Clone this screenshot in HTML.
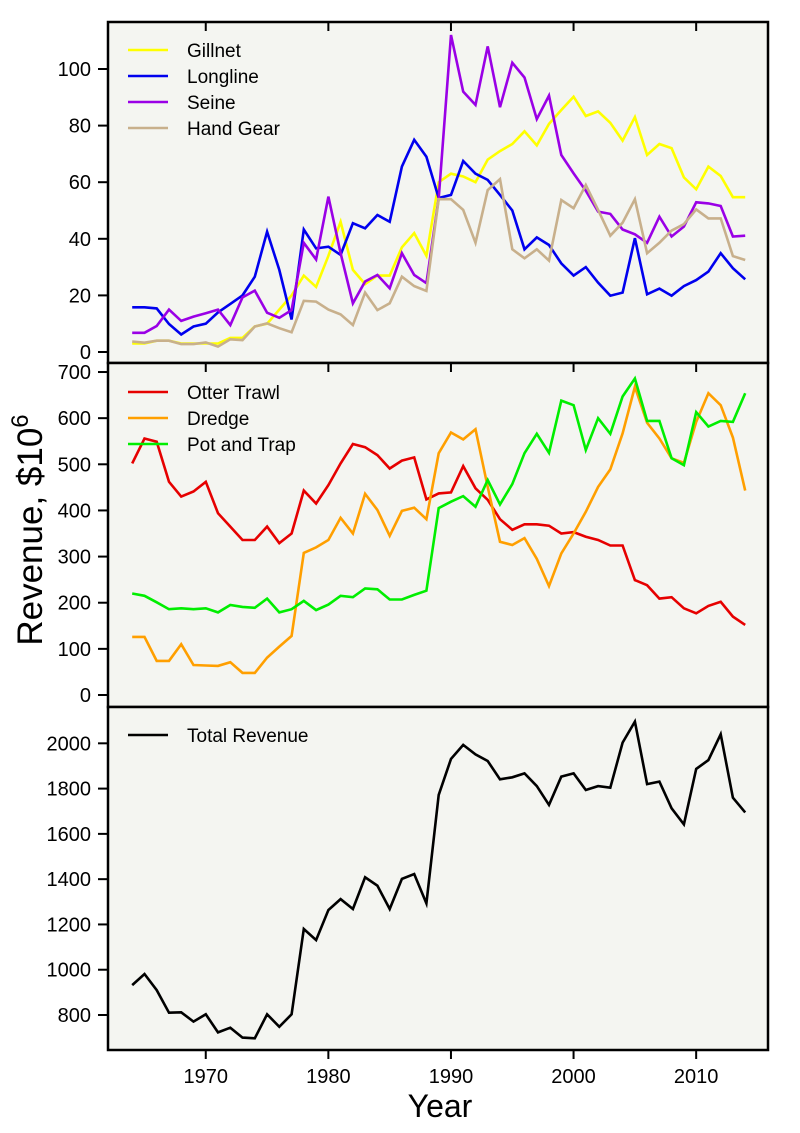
<!DOCTYPE html>
<html><head><meta charset="utf-8"><style>
html,body{margin:0;padding:0;background:#fff}
svg{display:block;font-family:"Liberation Sans",Arial,sans-serif}
</style></head><body>
<svg id="chart" width="800" height="1133" viewBox="0 0 800 1133" xmlns="http://www.w3.org/2000/svg">
<g id="panels"></g>
<text transform="translate(42,530) rotate(-90)" text-anchor="middle" font-size="35">Revenue, $10<tspan dy="-14" font-size="24">6</tspan></text>
<text x="440" y="1117" text-anchor="middle" font-size="32">Year</text>
</svg>
<script>
const years = Array.from({length:51},(_,i)=>1964+i);
const gillnet = [3,3,4,4,3,3,3,3,5,5,9,10,15,20,27,23,34,46,29,24,27,27,37,42,34,60,63,62,60,68,71,73.5,78,73,80.6,85.5,90.2,83.4,85,81,74.7,83,69.6,73.5,72,61.7,57.5,65.5,62.2,54.7,54.7];
const longline = [15.8,15.8,15.4,9.9,6.2,9,10,14,17,20,26.6,42.5,29,11.5,43.3,36.6,37.2,34.3,45.5,43.7,48.4,46,65.5,75,69,54.4,55.5,67.5,63,60.8,55.5,50,36.3,40.5,37.8,31.3,27,30,24.5,19.9,21,40.2,20.4,22.4,19.9,23.3,25.4,28.4,34.9,29.6,25.7];
const seine = [6.8,6.8,9.2,15,11,12.5,13.7,15,9.5,19.3,21.7,13.9,12.1,14.8,38.6,32.7,54.9,34.9,17.2,24.9,27.2,22.5,34.9,27.2,24.3,54.3,112,92,87.3,108,86.5,102.2,97,82.3,90.6,69.6,63.1,57,49.6,48.8,43.3,41.6,38.6,47.8,40.8,44.3,52.9,52.5,51.6,40.8,41.1];
const handGear = [3.7,3.3,4,4,2.8,2.8,3.4,1.9,4.5,4.2,9,10.1,8.4,7,18.1,17.8,15,13.3,9.5,21,14.8,17.2,26.6,23.3,21.6,54,54,50.2,38.6,57.2,61.1,36.3,33.1,36.3,32.3,53.7,50.8,59,50.2,41.1,45.7,54,34.9,38.6,42.9,45.2,50.4,47.2,47.2,33.9,32.5];
const otterTrawl = [502,556,549,462,430,441,462,394,365,336,336,365,329,350,443,415,455,502,544,537,520,491,508,515,424,437,439,496,448,423,381,358,370,370,367,350,353,343,336,324,324,249,238,209,212,188,177,193,202,170,152];
const dredge = [126,126,74,74,110,65,64,63,71,48,48,81,105,128,308,320,336,384,350,436,401,345,399,406,381,524,569,554,576,451,332,325,340,295,236,307,350,397,451,489,567,668,590,556,513,503,592,654,628,558,443];
const potTrap = [220,215,201,186,188,186,188,179,195,191,189,209,179,186,204,184,196,215,212,231,229,207,207,217,226,405,419,431,408,466,413,457,524,566,525,638,628,531,600,566,647,686,594,594,513,498,613,582,594,592,654];
const totalRevenue = [932,981,910,810,812,771,803,723,744,700,697,803,748,803,1180,1131,1264,1312,1268,1408,1371,1268,1401,1423,1293,1772,1931,1993,1951,1922,1841,1850,1867,1811,1728,1853,1867,1794,1811,1804,2003,2096,1820,1831,1713,1642,1887,1926,2040,1760,1695];
const xTicks = [1970,1980,1990,2000,2010];
const yTicks1 = [0,20,40,60,80,100];
const yTicks2 = [0,100,200,300,400,500,600,700];
const yTicks3 = [800,1000,1200,1400,1600,1800,2000];

const NS="http://www.w3.org/2000/svg";
const L=108,R=768;
function x(yr){return 132.2+(yr-1964)*12.26;}
function mk(tag,attrs,parent){const e=document.createElementNS(NS,tag);for(const k in attrs)e.setAttribute(k,attrs[k]);parent.appendChild(e);return e;}
const root=document.getElementById('panels');

const panels=[
 {name:'gear-panel-small',top:22,bot:363,y0:352,k:2.83,v0:0,ticks:yTicks1,
  series:[['gillnet',gillnet,'#ffff00','Gillnet'],['longline',longline,'#0000ee','Longline'],['seine',seine,'#9a00e6','Seine'],['hand-gear',handGear,'#c8b08c','Hand Gear']],legendY:50},
 {name:'gear-panel-large',top:363,bot:707,y0:695,k:0.4614,v0:0,ticks:yTicks2,
  series:[['otter-trawl',otterTrawl,'#e60000','Otter Trawl'],['dredge',dredge,'#ff9f00','Dredge'],['pot-and-trap',potTrap,'#00ee00','Pot and Trap']],legendY:392},
 {name:'total-panel',top:707,bot:1050,y0:1015,k:0.2264,v0:800,ticks:yTicks3,
  series:[['total-revenue',totalRevenue,'#000000','Total Revenue']],legendY:735}
];

panels.forEach((p,pi)=>{
  const g=mk('g',{},root);
  
  
  const bg=mk('rect',{x:L,y:p.top,width:R-L,height:p.bot-p.top,fill:'#f4f5f1'},g);
  
  
  const yv=v=>p.y0-(v-p.v0)*p.k;
  p.ticks.forEach(t=>{
    const tl=mk('line',{x1:98,x2:L,y1:yv(t),y2:yv(t),stroke:'#000','stroke-width':2},g);
    
    
    const tx=mk('text',{x:91,y:yv(t)+7,'text-anchor':'end','font-size':20},g);
    
    
    tx.textContent=t;
  });
  xTicks.forEach(t=>{
    const y1=pi===2?p.bot:p.top, y2=pi===2?p.bot+9:p.top+9;
    const tl=mk('line',{x1:x(t),x2:x(t),y1:y1,y2:y2,stroke:'#000','stroke-width':2},g);
    
    
    if(pi===2){
      const tx=mk('text',{x:x(t),y:1083,'text-anchor':'middle','font-size':20},g);
      
      
      tx.textContent=t;
    }
  });
  p.series.forEach((s,si)=>{
    const pts=s[1].map((v,i)=>x(years[i]).toFixed(1)+','+yv(v).toFixed(1)).join(' ');
    const pl=mk('polyline',{points:pts,fill:'none',stroke:s[2],'stroke-width':2.6,'stroke-linejoin':'miter'},g);
    
    
    const ly=p.legendY+si*26;
    const ll=mk('line',{x1:128,x2:168,y1:ly,y2:ly,stroke:s[2],'stroke-width':2.6},g);
    
    
    const lt=mk('text',{x:187,y:ly+7,'font-size':19},g);
    
    
    lt.textContent=s[3];
  });
  const fr=mk('rect',{x:L,y:p.top,width:R-L,height:p.bot-p.top,fill:'none',stroke:'#000','stroke-width':2.5},g);
  
  
});
</script>
</body></html>
